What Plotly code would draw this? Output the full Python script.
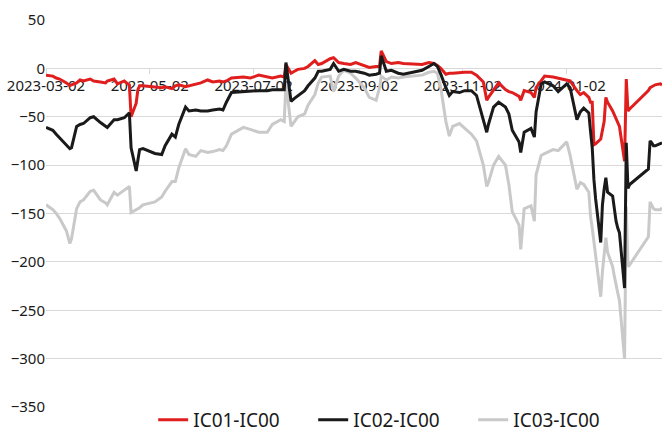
import plotly.graph_objects as go

# datos (diferencias de base IC)
fechas = ["2023-03-02", "2023-03-06", "2023-03-08", "2023-03-10", "2023-03-14", "2023-03-16", "2023-03-17",
          "2023-03-20", "2023-03-22", "2023-03-24", "2023-03-28", "2023-03-30", "2023-04-03", "2023-04-06",
          "2023-04-07", "2023-04-11", "2023-04-13", "2023-04-17", "2023-04-19", "2023-04-20", "2023-04-21",
          "2023-04-24", "2023-04-25", "2023-04-26", "2023-04-28", "2023-05-05", "2023-05-09", "2023-05-11",
          "2023-05-15", "2023-05-17", "2023-05-19", "2023-05-23", "2023-05-25", "2023-05-29", "2023-06-01",
          "2023-06-05", "2023-06-08", "2023-06-12", "2023-06-14", "2023-06-16", "2023-06-19", "2023-06-26",
          "2023-06-30", "2023-07-05", "2023-07-10", "2023-07-13", "2023-07-18", "2023-07-20", "2023-07-21",
          "2023-07-24", "2023-07-26", "2023-07-28", "2023-08-01", "2023-08-03", "2023-08-07", "2023-08-09",
          "2023-08-11", "2023-08-16", "2023-08-18", "2023-08-21", "2023-08-24", "2023-08-28", "2023-08-31",
          "2023-09-05", "2023-09-08", "2023-09-12", "2023-09-14", "2023-09-15", "2023-09-18", "2023-09-21",
          "2023-09-25", "2023-09-28", "2023-10-09", "2023-10-13", "2023-10-16", "2023-10-18", "2023-10-20",
          "2023-10-23", "2023-10-25", "2023-10-27", "2023-10-31", "2023-11-03", "2023-11-07", "2023-11-10",
          "2023-11-14", "2023-11-16", "2023-11-17", "2023-11-20", "2023-11-23", "2023-11-27", "2023-11-29",
          "2023-12-01", "2023-12-05", "2023-12-06", "2023-12-08", "2023-12-12", "2023-12-14", "2023-12-15",
          "2023-12-18", "2023-12-20", "2023-12-25", "2023-12-28", "2024-01-02", "2024-01-04", "2024-01-08",
          "2024-01-10", "2024-01-12", "2024-01-15", "2024-01-16", "2024-01-17", "2024-01-18", "2024-01-19",
          "2024-01-22", "2024-01-23", "2024-01-24", "2024-01-25", "2024-01-26", "2024-01-29", "2024-01-30",
          "2024-01-31", "2024-02-01", "2024-02-02", "2024-02-05", "2024-02-06", "2024-02-07", "2024-02-08",
          "2024-02-19", "2024-02-20", "2024-02-21", "2024-02-22", "2024-02-23", "2024-02-26", "2024-02-27"]

ic01 = [-7, -8, -10, -11, -15, -18, -17,
        -15, -12, -13, -11, -13, -14, -15,
        -13, -11, -16, -13, -16, -17, -50,
        -36, -22, -18, -18, -19, -20, -19,
        -21, -18, -17, -19, -18, -16, -15,
        -12, -14, -13, -14, -13, -10, -9,
        -10, -7, -9, -10, -8, -9, 4,
        -5, -3, -1, 0, 2, 8, 4,
        5, 10, 11, 6, 5, 4, 6,
        3, 1, 2, 2, 18, 7, 5,
        6, 5, 4, 6, 5, 3, 0,
        -6, -5, -5, -4, -4, -4, -7,
        -14, -33, -30, -22, -15, -22, -24,
        -25, -29, -33, -23, -25, -30, -20,
        -12, -8, -9, -10, -12, -13, -23,
        -27, -25, -30, -35, -35, -79, -78,
        -73, -62, -55, -30, -35, -44, -48,
        -51, -56, -60, -96, -11, -44, -42,
        -23, -20, -19, -18, -17, -16, -17]

ic02 = [-61, -64, -68, -72, -80, -83, -82,
        -60, -58, -57, -51, -50, -56, -60,
        -61, -53, -53, -51, -48, -46, -82,
        -106, -95, -84, -83, -88, -89, -80,
        -68, -71, -58, -40, -44, -43, -44,
        -44, -43, -42, -43, -35, -25, -24,
        -23, -23, -23, -22, -22, -22, 6,
        -34, -31, -28, -23, -18, -10, -3,
        -3, -1, 5, -3, -1, -3, -3,
        -5, -7, -6, -5, 13, -3, -2,
        -5, -6, -2, 2, 5, 2, -6,
        -20, -28, -24, -25, -23, -23, -28,
        -52, -66, -58, -40, -35, -40, -47,
        -64, -76, -87, -66, -62, -71, -45,
        -16, -14, -18, -24, -16, -20, -53,
        -45, -41, -46, -65, -82, -115, -135,
        -180, -141, -125, -113, -128, -132, -145,
        -158, -165, -170, -227, -77, -124, -120,
        -104, -75, -77, -80, -80, -78, -77]

ic03 = [-141, -146, -150, -155, -168, -181, -176,
        -145, -138, -136, -127, -126, -136, -139,
        -141, -128, -131, -126, -123, -122, -149,
        -146, -145, -144, -141, -138, -133, -127,
        -117, -117, -103, -83, -89, -91, -85,
        -87, -86, -84, -85, -80, -68, -61,
        -63, -66, -66, -58, -53, -55, -15,
        -60, -55, -50, -47, -38, -27, -15,
        -9, -8, -24, -8, -2, -5, -10,
        -20, -30, -33, -20, -8, -12, -9,
        -10, -9, -7, -4, -3, -5, -20,
        -55, -70, -60, -57, -62, -68, -75,
        -100, -122, -118, -100, -91, -100, -120,
        -148, -162, -187, -145, -142, -158, -110,
        -90, -88, -84, -85, -76, -90, -125,
        -118, -120, -128, -153, -165, -180, -195,
        -236, -210, -190, -175, -190, -205, -215,
        -222, -232, -240, -300, -143, -205, -203,
        -174, -138, -142, -145, -146, -146, -144]

ticks_x = ["2023-03-02", "2023-05-02", "2023-07-02", "2023-09-02", "2023-11-02", "2024-01-02"]

fig = go.Figure()
# gris debajo, negro encima (como en el original)
fig.add_trace(go.Scatter(x=fechas, y=ic03, name="IC03-IC00", mode="lines",
                         line=dict(color="#c9c9c9", width=3), legendrank=3))
fig.add_trace(go.Scatter(x=fechas, y=ic01, name="IC01-IC00", mode="lines",
                         line=dict(color="#e01e1e", width=3), legendrank=1))
fig.add_trace(go.Scatter(x=fechas, y=ic02, name="IC02-IC00", mode="lines",
                         line=dict(color="#1a1a1a", width=3), legendrank=2))

dom0 = 25 / 412  # espacio para la leyenda abajo
fig.update_layout(
    width=662, height=432,
    margin=dict(l=46, r=0, t=20, b=0, autoexpand=False),
    plot_bgcolor="white", paper_bgcolor="white",
    font=dict(family="Noto Sans", size=15, color="#1a1a1a"),
    showlegend=True,
    legend=dict(orientation="h", x=0.174, xanchor="left", y=-0.017, yanchor="bottom",
                font=dict(size=19), entrywidth=115, bgcolor="rgba(0,0,0,0)"),
)
fig.update_yaxes(range=[-350, 50], tick0=0, dtick=50, showgrid=True, gridcolor="#d9d9d9",
                 zeroline=False, domain=[dom0, 1], automargin=False)
# eje x sobre la linea del cero
fig.update_xaxes(type="date", range=[fechas[0], fechas[-1]], tickvals=ticks_x, ticktext=ticks_x,
                 anchor="free", position=dom0 + (1 - dom0) * 350 / 400, showgrid=False,
                 showline=True, linecolor="#d9d9d9", ticks="outside", ticklen=5, tickcolor="#d9d9d9",
                 ticklabelstandoff=-1, layer="below traces", automargin=False)

# quitar el margen del body para que la figura empiece en 0,0
fig.write_html("out.html", config={"displayModeBar": False},
               post_script="document.body.style.margin='0';")
